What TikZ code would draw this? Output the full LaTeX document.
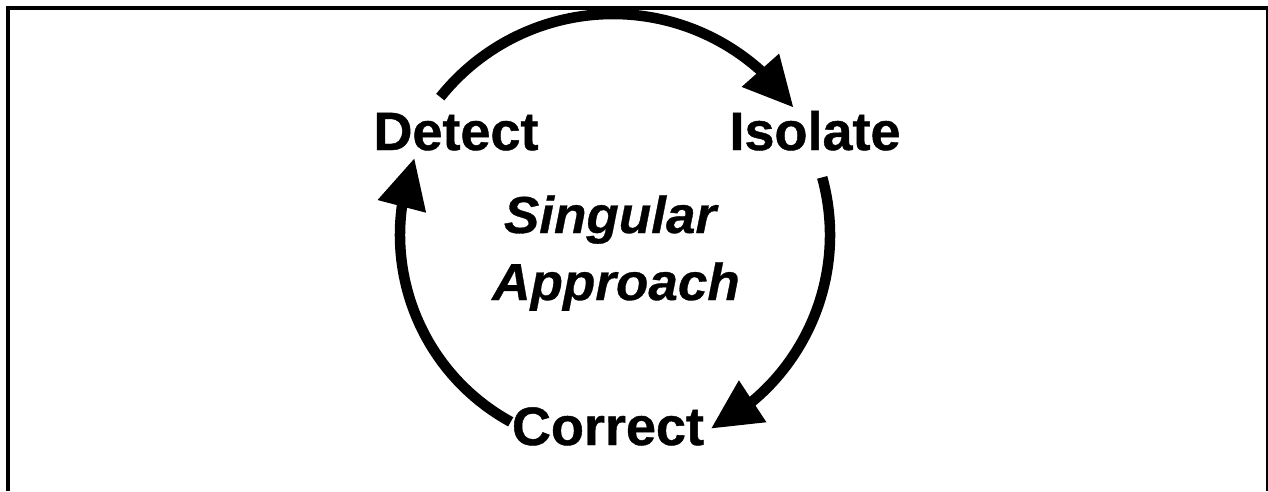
\documentclass[tikz,border=0pt]{standalone}
\usepackage{fontspec}
\setmainfont{Liberation Sans}
\newfontfamily\labfont[FakeBold=0.8]{Liberation Sans}
\newfontfamily\midfont[FakeStretch=1.02,FakeBold=0.6]{Liberation Sans}
\usetikzlibrary{arrows.meta,bending}
\tikzset{
  frameline/.style={line width=4pt},
  cyclearrow/.style={line width=10.5pt,-{Triangle[length=50pt,width=47pt,flex]}},
  steplabel/.style={anchor=base,inner sep=0pt,font=\labfont\fontsize{54}{60}\selectfont\bfseries},
  centerlabel/.style={anchor=base,inner sep=0pt,font=\midfont\fontsize{52}{60}\selectfont\bfseries\itshape}
}
\begin{document}
\begin{tikzpicture}[x=1pt,y=1pt]
\useasboundingbox (0,0) rectangle (1268,-491);
\draw[frameline] (7.5,-491) -- (7.5,-7.5) -- (1267.5,-7.5) -- (1267.5,-491);
\coordinate (c) at (613,-235);
\node[steplabel] (detect) at (456,-150) {Detect};
\node[steplabel] (isolate) at (815,-150) {Isolate};
\node[steplabel] (correct) at (608,-445) {Correct};
\node[centerlabel] (singular) at (610,-233) {Singular};
\node[centerlabel] (approach) at (616,-300) {Approach};
\draw[cyclearrow] (c) ++(141.4:221) arc[start angle=141.4, end angle=35.2, radius=221];
\draw[cyclearrow] (c) ++(15.4:217) arc[start angle=15.4, end angle=-63.2, radius=217];
\draw[cyclearrow] (c) ++(241.3:213) arc[start angle=241.3, end angle=158.8, radius=213];
\end{tikzpicture}
\end{document}
